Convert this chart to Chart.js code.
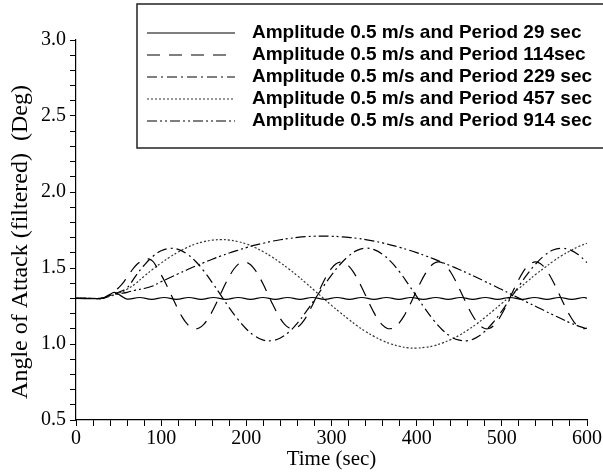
<!DOCTYPE html>
<html>
<head>
<meta charset="utf-8">
<script src="https://cdn.jsdelivr.net/npm/chart.js"></script>
<style>
  body { margin: 0; background: #fff; }
  #wrap { width: 603px; height: 472px; }
</style>
</head>
<body>
<div id="wrap"><canvas id="aoa" width="603" height="472"></canvas></div>
<script>
// series labels
const labels = [
  'Amplitude 0.5 m/s and Period 29 sec',
  'Amplitude 0.5 m/s and Period 114sec',
  'Amplitude 0.5 m/s and Period 229 sec',
  'Amplitude 0.5 m/s and Period 457 sec',
  'Amplitude 0.5 m/s and Period 914 sec'
]

// time samples (sec)
const time10 = [0, 10, 20, 30, 40, 50, 60, 70, 80, 90, 100, 110, 120, 130, 140, 150, 160, 170, 180, 190,
  200, 210, 220, 230, 240, 250, 260, 270, 280, 290, 300, 310, 320, 330, 340, 350, 360, 370, 380, 390,
  400, 410, 420, 430, 440, 450, 460, 470, 480, 490, 500, 510, 520, 530, 540, 550, 560, 570, 580, 590, 600]

const time5 = [0, 5, 10, 15, 20, 25, 30, 35, 40, 45, 50, 55, 60, 65, 70, 75, 80, 85, 90, 95,
  100, 105, 110, 115, 120, 125, 130, 135, 140, 145, 150, 155, 160, 165, 170, 175, 180, 185, 190, 195,
  200, 205, 210, 215, 220, 225, 230, 235, 240, 245, 250, 255, 260, 265, 270, 275, 280, 285, 290, 295,
  300, 305, 310, 315, 320, 325, 330, 335, 340, 345, 350, 355, 360, 365, 370, 375, 380, 385, 390, 395,
  400, 405, 410, 415, 420, 425, 430, 435, 440, 445, 450, 455, 460, 465, 470, 475, 480, 485, 490, 495,
  500, 505, 510, 515, 520, 525, 530, 535, 540, 545, 550, 555, 560, 565, 570, 575, 580, 585, 590, 595, 600]

const time29 = [0, 30, 38, 45, 52, 60, 74.5, 89, 103.5, 118, 132.5, 147, 161.5, 176, 190.5,
  205, 219.5, 234, 248.5, 263, 277.5, 292, 306.5, 321, 335.5, 350, 364.5, 379, 393.5, 408,
  422.5, 437, 451.5, 466, 480.5, 495, 509.5, 524, 538.5, 553, 567.5, 582, 596.5, 600]

// angle of attack (deg)
const aoa29 = [1.30, 1.30, 1.32, 1.34, 1.32, 1.295, 1.306, 1.294, 1.306, 1.294, 1.306, 1.294, 1.306, 1.294, 1.306,
  1.294, 1.306, 1.294, 1.306, 1.294, 1.306, 1.294, 1.306, 1.294, 1.306, 1.294, 1.306, 1.294, 1.306, 1.294,
  1.306, 1.294, 1.306, 1.294, 1.306, 1.294, 1.306, 1.294, 1.306, 1.294, 1.306, 1.294, 1.306, 1.301]

const aoa114 = [1.30, 1.30, 1.30, 1.30, 1.30, 1.30, 1.30, 1.31, 1.325, 1.345, 1.37, 1.40, 1.44, 1.48, 1.515, 1.54, 1.555, 1.56, 1.545, 1.505,
  1.455, 1.403, 1.344, 1.284, 1.226, 1.175, 1.135, 1.110, 1.100, 1.107, 1.129, 1.166, 1.215, 1.272, 1.332, 1.391, 1.444, 1.490, 1.522, 1.538,
  1.538, 1.521, 1.489, 1.444, 1.391, 1.331, 1.272, 1.216, 1.166, 1.129, 1.107, 1.100, 1.110, 1.136, 1.175, 1.227, 1.284, 1.344, 1.403, 1.455,
  1.497, 1.526, 1.539, 1.535, 1.514, 1.480, 1.433, 1.378, 1.320, 1.260, 1.205, 1.159, 1.124, 1.104, 1.101, 1.114, 1.142, 1.183, 1.235, 1.293,
  1.353, 1.410, 1.461, 1.502, 1.529, 1.540, 1.534, 1.511, 1.472, 1.423, 1.365, 1.306, 1.247, 1.194, 1.150, 1.118, 1.102, 1.102, 1.119, 1.152,
  1.197, 1.251, 1.310, 1.370, 1.426, 1.475, 1.511, 1.533, 1.540, 1.530, 1.504, 1.464, 1.413, 1.356, 1.296, 1.238, 1.186, 1.143, 1.114, 1.101, 1.104]

const aoa229 = [1.30, 1.30, 1.30, 1.30, 1.32, 1.34, 1.37, 1.447, 1.518, 1.575, 1.613, 1.629, 1.623, 1.594, 1.546, 1.481, 1.404, 1.321, 1.238, 1.163,
  1.099, 1.052, 1.025, 1.022, 1.040, 1.079, 1.138, 1.211, 1.291, 1.375, 1.453, 1.523, 1.578, 1.616, 1.630, 1.621, 1.590, 1.540, 1.474, 1.395,
  1.313, 1.231, 1.156, 1.094, 1.049, 1.025, 1.022, 1.042, 1.083, 1.143, 1.217, 1.298, 1.381, 1.460, 1.528, 1.582, 1.618, 1.630, 1.619, 1.587, 1.535]

const aoa457 = [1.30, 1.30, 1.30, 1.30, 1.315, 1.335, 1.36, 1.398, 1.446, 1.491, 1.533, 1.571, 1.605, 1.634, 1.657, 1.673, 1.683, 1.687, 1.684, 1.674,
  1.658, 1.635, 1.607, 1.573, 1.535, 1.493, 1.449, 1.401, 1.352, 1.303, 1.254, 1.208, 1.163, 1.120, 1.082, 1.050, 1.022, 1.000, 0.985, 0.975,
  0.973, 0.978, 0.988, 1.006, 1.029, 1.057, 1.092, 1.130, 1.174, 1.220, 1.267, 1.315, 1.365, 1.412, 1.459, 1.501, 1.543, 1.580, 1.612, 1.641, 1.663]

const aoa914 = [1.30, 1.30, 1.30, 1.30, 1.315, 1.33, 1.34, 1.355, 1.365, 1.382, 1.410, 1.436, 1.462, 1.487, 1.512, 1.535, 1.558, 1.579, 1.599, 1.617,
  1.634, 1.650, 1.663, 1.676, 1.686, 1.694, 1.701, 1.706, 1.709, 1.710, 1.709, 1.706, 1.702, 1.695, 1.687, 1.677, 1.665, 1.651, 1.636, 1.619,
  1.601, 1.581, 1.560, 1.537, 1.514, 1.490, 1.465, 1.439, 1.412, 1.385, 1.358, 1.330, 1.302, 1.274, 1.247, 1.219, 1.192, 1.166, 1.140, 1.118, 1.100]

function pts(xs, ys) {
  return xs.map((x, i) => ({ x: x, y: ys[i] }))
}

function makeSet(label, xs, ys, dash, color) {
  return {
    label: label,
    data: pts(xs, ys),
    borderColor: color,
    borderWidth: 1.2,
    borderDash: dash,
    pointRadius: 0,
    tension: 0.4,
    fill: false
  }
}

const data = {
  datasets: [
    makeSet(labels[0], time29, aoa29, [], '#000'),
    makeSet(labels[1], time5, aoa114, [13, 9], '#000'),
    makeSet(labels[2], time10, aoa229, [10, 4, 2, 4], '#000'),
    makeSet(labels[3], time10, aoa457, [2, 2], '#333'),
    makeSet(labels[4], time10, aoa914, [10, 3, 2, 3, 2, 3], '#000')
  ]
}

// boxed legend in the upper right, like the original plot
const legendBox = {
  id: 'legendBox',
  afterDraw(chart) {
    const ctx = chart.ctx
    ctx.save()
    ctx.fillStyle = '#fff'
    ctx.strokeStyle = '#222'
    ctx.lineWidth = 1.5
    ctx.fillRect(137, 4, 480, 144)
    ctx.strokeRect(137, 4, 480, 144)
    chart.data.datasets.forEach((ds, i) => {
      const y = 33 + i * 22
      ctx.strokeStyle = ds.borderColor
      ctx.lineWidth = ds.borderWidth
      ctx.setLineDash(ds.borderDash)
      ctx.beginPath()
      ctx.moveTo(147, y)
      ctx.lineTo(235, y)
      ctx.stroke()
      ctx.setLineDash([])
      ctx.fillStyle = '#000'
      ctx.font = 'bold 19px "Liberation Sans", Arial, sans-serif'
      ctx.textBaseline = 'middle'
      ctx.fillText(ds.label, 252, y)
    })
    ctx.restore()
  }
}

const serif = '"Liberation Serif", "Times New Roman", serif'

const chart = new Chart(
  document.getElementById('aoa'),
  {
    type: 'line',
    data: data,
    plugins: [legendBox],
    options: {
      responsive: false,
      animation: false,
      layout: { padding: { top: 40, right: 15, left: 0, bottom: 0 } },
      plugins: {
        legend: { display: false },
        tooltip: { enabled: false }
      },
      scales: {
        x: {
          type: 'linear',
          min: 0,
          max: 600,
          afterFit: (s) => { s.height = 52 },
          border: { color: '#000', width: 1.2 },
          grid: { drawOnChartArea: false, drawTicks: true, tickLength: 6, color: '#000', tickWidth: 1 },
          ticks: {
            stepSize: 20,
            autoSkip: false,
            maxRotation: 0,
            padding: 1,
            color: '#000',
            font: { family: serif, size: 20 },
            callback: (v) => (v % 100 === 0 ? String(v) : '')
          },
          title: {
            display: true,
            text: 'Time (sec)',
            color: '#000',
            font: { family: serif, size: 21 },
            padding: { top: 0, bottom: 0 }
          }
        },
        y: {
          min: 0.5,
          max: 3.0,
          afterFit: (s) => { s.width = 76 },
          border: { color: '#000', width: 1.2 },
          grid: { drawOnChartArea: false, drawTicks: true, tickLength: 6, color: '#000', tickWidth: 1 },
          ticks: {
            stepSize: 0.1,
            autoSkip: false,
            padding: 4,
            color: '#000',
            font: { family: serif, size: 20 },
            callback: (v) => (Math.abs(v * 2 - Math.round(v * 2)) < 1e-6 ? v.toFixed(1) : '')
          },
          title: {
            display: true,
            // trailing spaces nudge the label a bit lower, as in the original
            text: 'Angle of Attack (filtered)  (Deg)    ',
            color: '#000',
            font: { family: serif, size: 24 },
            padding: { top: 6, bottom: 0 }
          }
        }
      }
    }
  }
)
</script>
</body>
</html>
